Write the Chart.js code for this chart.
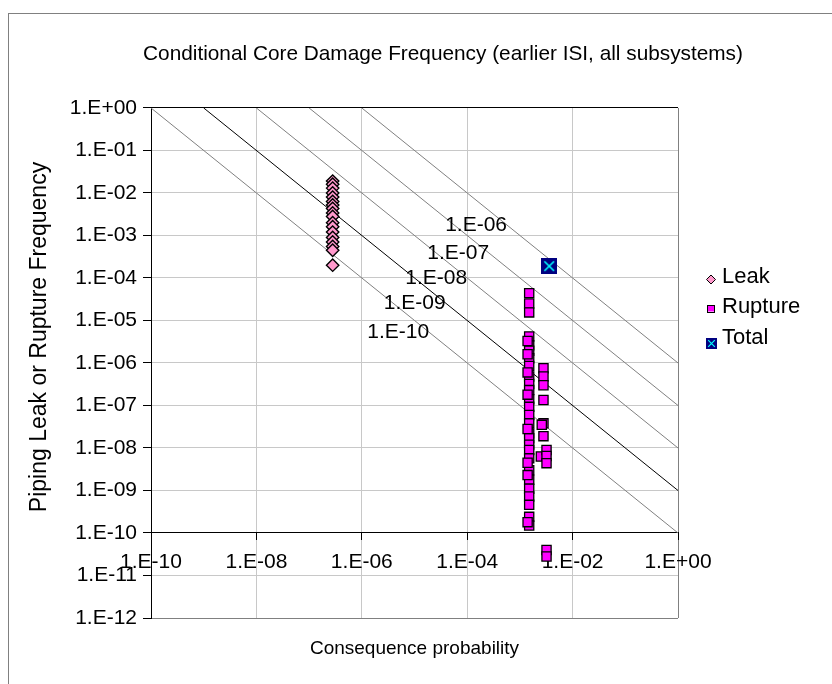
<!DOCTYPE html>
<html lang="en">
<head>
<meta charset="UTF-8">
<title>Conditional Core Damage Frequency</title>
<script src="https://cdn.jsdelivr.net/npm/chart.js"></script>
<style>
  html, body { margin: 0; padding: 0; background: #fff; }
  body { width: 832px; height: 684px; position: relative; overflow: hidden; }
  .frame { position: absolute; left: 8px; top: 13px; width: 871px; height: 760px; border: 1px solid #808080; }
  .chart-box { position: absolute; left: 0; top: 0; width: 886px; height: 684px; }
</style>
</head>
<body>
<div class="frame"></div>
<div class="chart-box"><canvas id="cdf-chart"></canvas></div>
<script>
const FONT = '"Liberation Sans", Arial, sans-serif';

// axes
const xTicks = [1e-10, 1e-8, 1e-6, 1e-4, 1e-2, 1];
const xTickLabels = ['1.E-10', '1.E-08', '1.E-06', '1.E-04', '1.E-02', '1.E+00'];
const yTicks = [1, 1e-1, 1e-2, 1e-3, 1e-4, 1e-5, 1e-6, 1e-7, 1e-8, 1e-9, 1e-10, 1e-11, 1e-12];
const yTickLabels = ['1.E+00', '1.E-01', '1.E-02', '1.E-03', '1.E-04', '1.E-05', '1.E-06',
                     '1.E-07', '1.E-08', '1.E-09', '1.E-10', '1.E-11', '1.E-12'];

// Leak: all at the same consequence probability
const leakX = 2.8e-7;
const leakY = [1.9e-2, 1.6e-2, 1.3e-2, 1.0e-2, 8e-3, 6.3e-3, 5.2e-3, 4.3e-3, 3.4e-3,
               2.8e-3, 2.0e-3, 1.6e-3, 1.2e-3, 9e-4, 7e-4, 5.5e-4, 4.5e-4, 2.0e-4];

// Rupture
const ruptureX = [
  1.5e-3, 1.5e-3, 1.5e-3, 1.5e-3, 1.5e-3, 1.5e-3, 1.5e-3, 1.5e-3, 1.5e-3,
  1.5e-3, 1.5e-3, 1.5e-3, 1.5e-3, 1.5e-3, 1.5e-3, 1.5e-3, 1.5e-3, 1.5e-3,
  1.5e-3, 1.5e-3, 1.5e-3, 1.5e-3, 1.5e-3, 1.5e-3, 1.5e-3, 1.5e-3, 1.5e-3,
  1.4e-3, 1.4e-3, 1.4e-3, 1.4e-3, 1.4e-3, 1.4e-3, 1.4e-3, 1.4e-3,
  2.8e-3, 2.8e-3, 2.8e-3, 2.8e-3, 2.8e-3, 2.8e-3, 2.6e-3, 2.5e-3,
  3.2e-3, 3.2e-3, 3.2e-3, 3.2e-3, 3.2e-3
];
const ruptureY = [
  4.4e-5, 2.5e-5, 1.55e-5, 4.2e-6, 2.6e-6, 1.95e-6, 1.3e-6, 8.5e-7, 4.8e-7,
  3.2e-7, 2.3e-7, 1.4e-7, 9.3e-8, 6e-8, 3.8e-8, 2.2e-8, 1.7e-8, 1.2e-8,
  9e-9, 5.7e-9, 3e-9, 1.8e-9, 1.1e-9, 7.2e-10, 4.6e-10, 2.4e-10, 1.5e-10,
  3.3e-6, 1.6e-6, 6e-7, 1.8e-7, 2.8e-8, 4.5e-9, 2.3e-9, 1.8e-10,
  7.5e-7, 4.8e-7, 3e-7, 1.35e-7, 3.8e-8, 1.9e-8, 3.5e-8, 6.3e-9,
  9e-9, 6.5e-9, 4.4e-9, 4e-11, 2.8e-11
];

// Total
const totalX = [3.6e-3];
const totalY = [1.9e-4];

// lines of constant conditional core damage frequency (x * y = level)
const cdfLevels = [1e-6, 1e-7, 1e-8, 1e-9, 1e-10];
const cdfLabels = ['1.E-06', '1.E-07', '1.E-08', '1.E-09', '1.E-10'];
const cdfLabelAtX = [5.7e-4, 2.6e-4, 1.0e-4, 3.9e-5, 1.9e-5];

const yTitle = 'Piping Leak or Rupture Frequency';

// navy square with cyan cross for the Total marker
function makeTotalIcon(size) {
  const c = document.createElement('canvas');
  c.width = size; c.height = size;
  const g = c.getContext('2d');
  g.fillStyle = '#000080';
  g.fillRect(0, 0, size, size);
  g.strokeStyle = '#00FFFF';
  g.lineWidth = size > 12 ? 1.6 : 1.2;
  const m = size * 0.2;
  g.beginPath();
  g.moveTo(m, m); g.lineTo(size - m, size - m);
  g.moveTo(size - m, m); g.lineTo(m, size - m);
  g.stroke();
  return c;
}

const cdfLabelPlugin = {
  id: 'cdfLabels',
  afterDatasetsDraw(chart) {
    const { ctx, scales } = chart;
    ctx.save();
    ctx.font = '21px ' + FONT;
    ctx.fillStyle = '#000';
    ctx.textAlign = 'right';
    ctx.textBaseline = 'middle';
    cdfLevels.forEach((level, i) => {
      const px = scales.x.getPixelForValue(cdfLabelAtX[i]);
      const py = scales.y.getPixelForValue(level / cdfLabelAtX[i]);
      ctx.fillText(cdfLabels[i], px, py);
    });
    ctx.restore();
  }
};

// y axis title sits a bit above the middle of the plot in the original
const yTitlePlugin = {
  id: 'yTitle',
  afterDraw(chart) {
    const ctx = chart.ctx;
    ctx.save();
    ctx.translate(40, 337);
    ctx.rotate(-Math.PI / 2);
    ctx.font = '23px ' + FONT;
    ctx.fillStyle = '#000';
    ctx.textAlign = 'center';
    ctx.textBaseline = 'middle';
    ctx.fillText(yTitle, 0, 0);
    ctx.restore();
  }
};

const sideLegendPlugin = {
  id: 'sideLegend',
  afterDraw(chart) {
    const ctx = chart.ctx;
    const sets = chart.data.datasets;
    ctx.save();
    ctx.font = '22px ' + FONT;
    ctx.textAlign = 'left';
    ctx.textBaseline = 'alphabetic';
    ctx.lineWidth = 1;
    ctx.strokeStyle = '#000';

    // Leak
    ctx.beginPath();
    ctx.moveTo(711, 275); ctx.lineTo(715.5, 279.5); ctx.lineTo(711, 284); ctx.lineTo(706.5, 279.5);
    ctx.closePath();
    ctx.fillStyle = '#FF99CC'; ctx.fill(); ctx.stroke();
    ctx.fillStyle = '#000';
    ctx.fillText(sets[0].label, 722, 282.5);

    // Rupture
    ctx.fillStyle = '#FF00FF';
    ctx.fillRect(708, 305.5, 6, 6);
    ctx.strokeRect(707.5, 305.5, 7, 7);
    ctx.fillStyle = '#000';
    ctx.fillText(sets[1].label, 722, 312.5);

    // Total
    ctx.drawImage(makeTotalIcon(11), 706, 338);
    ctx.fillText(sets[2].label, 722, 343.5);
    ctx.restore();
  }
};

function gridColor(ctx, dark, edge) {
  const v = ctx.tick && ctx.tick.value;
  if (dark.includes(v)) return '#000';
  if (edge.includes(v)) return '#808080';
  return '#c8c8c8';
}

new Chart(document.getElementById('cdf-chart'), {
  type: 'scatter',
  data: {
    datasets: [
      {
        label: 'Leak',
        data: leakY.map(y => ({ x: leakX, y })),
        pointStyle: 'rectRot', pointRadius: 6.2,
        pointBackgroundColor: '#FF99CC', pointBorderColor: '#000', pointBorderWidth: 1.4,
        order: 0
      },
      {
        label: 'Rupture',
        data: ruptureX.map((x, i) => ({ x, y: ruptureY[i] })),
        pointStyle: 'rect', pointRadius: 6.5,
        pointBackgroundColor: '#FF00FF', pointBorderColor: '#000', pointBorderWidth: 1.3,
        order: 0
      },
      {
        label: 'Total',
        data: totalX.map((x, i) => ({ x, y: totalY[i] })),
        pointStyle: makeTotalIcon(16), pointRadius: 8,
        order: 0
      },
      ...cdfLevels.map((level, i) => ({
        label: cdfLabels[i],
        data: [{ x: level, y: 1 }, { x: 1, y: level }],
        showLine: true, pointRadius: 0,
        borderColor: level === 1e-9 ? '#000' : '#808080', borderWidth: 1,
        order: 1
      }))
    ]
  },
  options: {
    responsive: true,
    maintainAspectRatio: false,
    animation: false,
    devicePixelRatio: 1,
    layout: { padding: 0 },
    plugins: {
      legend: { display: false },
      tooltip: { enabled: false },
      title: {
        display: true,
        text: 'Conditional Core Damage Frequency (earlier ISI, all subsystems)',
        color: '#000',
        font: { family: FONT, size: 20.8, weight: 'normal' },
        padding: { top: 41.5, bottom: 41.5 }
      }
    },
    scales: {
      x: {
        type: 'logarithmic',
        position: { y: 1e-10 },
        min: 1e-10, max: 1,
        afterBuildTicks: s => { s.ticks = xTicks.map(v => ({ value: v })); },
        ticks: {
          autoSkip: false, maxRotation: 0, padding: 10, color: '#000',
          font: { family: FONT, size: 21 },
          callback: (v, i) => xTickLabels[i]
        },
        grid: {
          color: c => gridColor(c, [1e-10], [1]),
          tickColor: '#000', tickLength: 7, lineWidth: 1
        },
        border: { display: true, color: '#000', width: 1 },
        title: { display: false }
      },
      x2: {
        type: 'linear',
        position: 'bottom',
        display: true,
        afterFit: s => { s.height = 66; },
        ticks: { display: false },
        grid: { display: false, drawTicks: false },
        border: { display: false },
        title: {
          display: true, text: 'Consequence probability', color: '#000',
          font: { family: FONT, size: 19 },
          padding: { top: 0, bottom: 24 }
        }
      },
      y: {
        type: 'logarithmic',
        position: 'left',
        min: 1e-12, max: 1,
        afterFit: s => { s.width = 151; },
        afterBuildTicks: s => { s.ticks = yTicks.map(v => ({ value: v })); },
        ticks: {
          autoSkip: false, padding: 6, color: '#000',
          font: { family: FONT, size: 21 },
          callback: (v, i) => yTickLabels[i]
        },
        grid: {
          color: c => gridColor(c, [1, 1e-10], [1e-12]),
          tickColor: '#000', tickLength: 8, lineWidth: 1
        },
        border: { display: true, color: '#000', width: 1 },
        title: { display: false }
      },
      // empty strip on the right that holds the legend
      y2: {
        type: 'linear',
        position: 'right',
        display: true,
        afterFit: s => { s.width = 208; },
        ticks: { display: false },
        grid: { display: false, drawTicks: false },
        border: { display: false }
      }
    }
  },
  plugins: [cdfLabelPlugin, yTitlePlugin, sideLegendPlugin]
});
</script>
</body>
</html>
